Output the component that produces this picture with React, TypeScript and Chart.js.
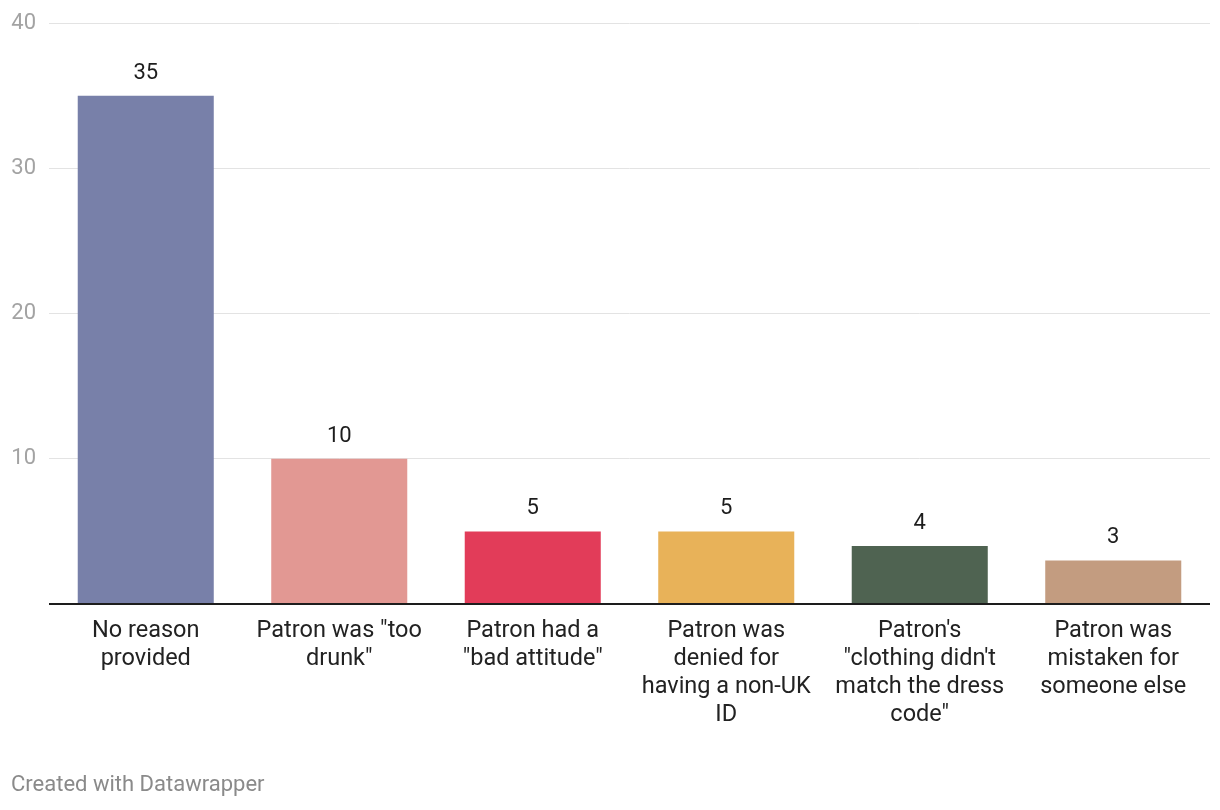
import React, { useEffect, useRef } from "react";
import { Chart, registerables } from "chart.js";

Chart.register(...registerables);

const categories: string[][] = [
  ["No reason", "provided"],
  ['Patron was "too', 'drunk"'],
  ["Patron had a", '"bad attitude"'],
  ["Patron was", "denied for", "having a non-UK", "ID"],
  ["Patron's", '"clothing didn\'t', "match the dress", 'code"'],
  ["Patron was", "mistaken for", "someone else"],
];
const counts: number[] = [35, 10, 5, 5, 4, 3];
const barColors: string[] = ["#7880a9", "#e29893", "#e23c59", "#e8b259", "#4f6351", "#c39c80"];
const yTicks: number[] = [0, 10, 20, 30, 40];

const FONT = "Roboto, 'Noto Sans', sans-serif";

const valueLabels = {
  id: "valueLabels",
  afterDatasetsDraw(chart: any) {
    const ctx = chart.ctx;
    const meta = chart.getDatasetMeta(0);
    ctx.save();
    ctx.font = `22px ${FONT}`;
    ctx.fillStyle = "#1d1d1d";
    ctx.textAlign = "center";
    ctx.textBaseline = "alphabetic";
    meta.data.forEach((bar: any, i: number) => {
      ctx.fillText(String(counts[i]), bar.x, bar.y - 17);
    });
    ctx.restore();
  },
};

export default function App() {
  const ref = useRef<HTMLCanvasElement | null>(null);
  useEffect(() => {
    if (!ref.current) return;
    const chart = new Chart(ref.current, {
      type: "bar",
      data: {
        labels: categories,
        datasets: [
          {
            data: counts,
            backgroundColor: barColors,
            barPercentage: 0.703,
            categoryPercentage: 1,
          },
        ],
      },
      options: {
        animation: false,
        responsive: false,
        layout: { padding: { left: 0, right: 10, top: 23, bottom: 0 } },
        plugins: { legend: { display: false }, tooltip: { enabled: false } },
        scales: {
          x: {
            grid: { display: false, drawTicks: false },
            border: { display: false },
            ticks: {
              padding: 13,
              color: "#222222",
              maxRotation: 0,
              autoSkip: false,
              font: { family: FONT, size: 23.5, lineHeight: 28 / 23.5 },
            },
            afterFit: (scale: any) => {
              scale.height = 810 - 604;
              scale.paddingLeft = 0;
              scale.paddingRight = 0;
            },
          },
          y: {
            min: 0,
            max: 40,
            afterBuildTicks: (scale: any) => {
              scale.ticks = yTicks.map((v) => ({ value: v }));
            },
            grid: {
              drawTicks: false,
              color: (c: any) => (c.tick && c.tick.value === 0 ? "#1d1d1d" : "#e3e3e3"),
              lineWidth: (c: any) => (c.tick && c.tick.value === 0 ? 2 : 1),
            },
            border: { display: false },
            ticks: {
              padding: 13,
              color: "#a3a3a3",
              font: { family: FONT, size: 22 },
              callback: (v: any) => (v === 0 ? "" : String(v)),
            },
            afterFit: (scale: any) => {
              scale.width = 49;
              scale.paddingTop = 0;
              scale.paddingBottom = 0;
            },
          },
        },
      },
      plugins: [valueLabels],
    });
    return () => chart.destroy();
  }, []);

  return (
    <div style={{ position: "absolute", left: 0, top: 0, width: 1220, height: 810, background: "#fff" }}>
      <canvas ref={ref} width={1220} height={810} style={{ width: 1220, height: 810, display: "block" }} />
      <div
        style={{
          position: "absolute",
          left: 11,
          top: 771,
          fontFamily: FONT,
          fontSize: 22,
          lineHeight: "26px",
          color: "#8a8a8a",
          whiteSpace: "nowrap",
        }}
      >
        Created with Datawrapper
      </div>
    </div>
  );
}
